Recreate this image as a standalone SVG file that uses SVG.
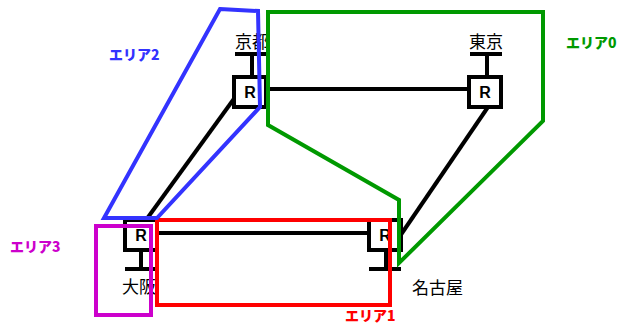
<svg xmlns="http://www.w3.org/2000/svg" width="619" height="324" viewBox="0 0 619 324">
<style>
.ln{stroke:#000;stroke-width:4;fill:none}
.box{stroke:#000;stroke-width:4;fill:#fff}
.r{font-family:"Liberation Sans",Arial,sans-serif;font-weight:bold;font-size:16px;text-anchor:middle}
.jp{font-family:"Noto Sans CJK JP","Noto Sans",sans-serif;font-size:17px;fill:#000}
.area{font-family:"Noto Sans CJK JP","Noto Sans",sans-serif;font-size:14px;font-weight:900}
.a{fill:none;stroke-width:4;stroke-linejoin:miter}
</style>
<g id="connectors">
<line class="ln" x1="266" y1="89" x2="469" y2="89"/>
<line class="ln" x1="157" y1="233" x2="369" y2="233"/>
<line class="ln" x1="236" y1="96" x2="146" y2="220"/>
<line class="ln" x1="400" y1="236" x2="488" y2="107"/>
</g>
<g id="kyoto">
<line class="ln" x1="235" y1="54" x2="268" y2="54"/>
<line class="ln" x1="252" y1="54" x2="252" y2="77"/>
<rect class="box" x="234" y="77" width="32" height="30"/>
<text class="r" x="250" y="98">R</text>
<text class="jp" x="235" y="48">京都</text>
</g>
<g id="tokyo">
<line class="ln" x1="470" y1="54" x2="502" y2="54"/>
<line class="ln" x1="487" y1="54" x2="487" y2="77"/>
<rect class="box" x="469" y="77" width="32" height="30"/>
<text class="r" x="485" y="98">R</text>
<text class="jp" x="469" y="48">東京</text>
</g>
<g id="osaka">
<line class="ln" x1="125" y1="269" x2="157" y2="269"/>
<line class="ln" x1="141" y1="250" x2="141" y2="269"/>
<rect class="box" x="125" y="220" width="32" height="30"/>
<text class="r" x="141" y="241">R</text>
<text class="jp" x="122" y="293">大阪</text>
</g>
<g id="nagoya">
<line class="ln" x1="369" y1="269" x2="401" y2="269"/>
<line class="ln" x1="386" y1="250" x2="386" y2="269"/>
<rect class="box" x="369" y="220" width="32" height="30"/>
<text class="r" x="385" y="241">R</text>
<text class="jp" x="412" y="294">名古屋</text>
</g>
<g id="area0">
<polygon class="a" stroke="#009900" points="268,12 543,12 543,121 399,263 399,200 268,125"/>
<text class="area" fill="#009900" x="566" y="48">エリア0</text>
</g>
<g id="area1">
<rect class="a" stroke="#ff0000" x="157" y="220" width="233" height="85"/>
<text class="area" fill="#ff0000" x="345" y="321">エリア1</text>
</g>
<g id="area2">
<polygon class="a" stroke="#3333ff" points="220,9 258,11 260,107 157,218 104,218"/>
<text class="area" fill="#3333ff" x="109" y="60">エリア2</text>
</g>
<g id="area3">
<rect class="a" stroke="#cc00cc" x="96" y="226" width="55" height="89"/>
<text class="area" fill="#cc00cc" x="10" y="252">エリア3</text>
</g>
</svg>
